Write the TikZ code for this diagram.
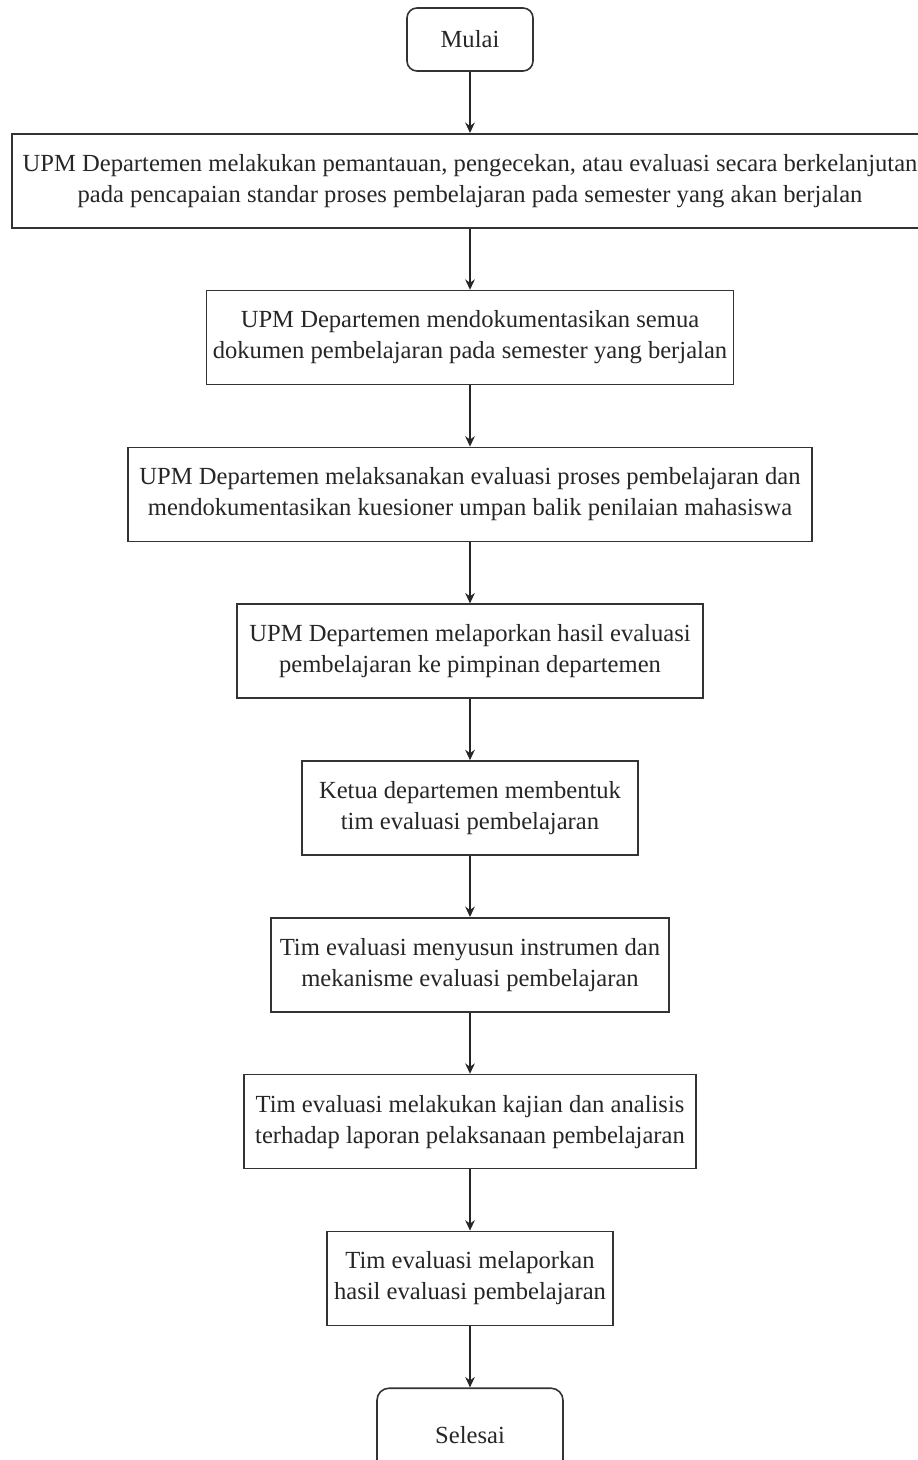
\documentclass[tikz,border=0pt]{standalone}
\usepackage{fontspec}
\setmainfont{Liberation Serif}
\usetikzlibrary{arrows.meta,positioning}
\tikzset{
    %Define standard arrow tip
    >={Stealth[length=5.2pt,width=4.8pt]},
    font=\fontsize{12.3pt}{15.5pt}\selectfont,
    %Define style for boxes
    kotak/.style={
           rectangle,
           draw=black!80, thick,
           minimum height=47pt,
           inner sep=0pt,
           align=center},
    % Define style for start and end
    ujung/.style={
           kotak,
           rounded corners=5pt},
    % Define arrow style
    pil/.style={
           ->,
           thick,
           color=black!85}
}

\begin{document}
\begin{tikzpicture}[pil,node distance=30.6pt]
  \useasboundingbox (0,0) rectangle (458.5pt,-730pt);
  \node[ujung,minimum width=63pt,minimum height=31.5pt] (mulai) at (235pt,-19.75pt) {Mulai};
  \node[kotak,minimum width=458pt] (p1) [below=of mulai] {UPM Departemen melakukan pemantauan, pengecekan, atau evaluasi secara berkelanjutan\\pada pencapaian standar proses pembelajaran pada semester yang akan berjalan};
  \node[kotak,minimum width=263.5pt] (p2) [below=of p1] {UPM Departemen mendokumentasikan semua\\dokumen pembelajaran pada semester yang berjalan};
  \node[kotak,minimum width=342pt] (p3) [below=of p2] {UPM Departemen melaksanakan evaluasi proses pembelajaran dan\\mendokumentasikan kuesioner umpan balik penilaian mahasiswa};
  \node[kotak,minimum width=233pt] (p4) [below=of p3] {UPM Departemen melaporkan hasil evaluasi\\pembelajaran ke pimpinan departemen};
  \node[kotak,minimum width=168pt] (p5) [below=of p4] {Ketua departemen membentuk\\tim evaluasi pembelajaran};
  \node[kotak,minimum width=199pt] (p6) [below=of p5] {Tim evaluasi menyusun instrumen dan\\mekanisme evaluasi pembelajaran};
  \node[kotak,minimum width=226pt] (p7) [below=of p6] {Tim evaluasi melakukan kajian dan analisis\\terhadap laporan pelaksanaan pembelajaran};
  \node[kotak,minimum width=143pt] (p8) [below=of p7] {Tim evaluasi melaporkan\\hasil evaluasi pembelajaran};
  \node[ujung,minimum width=93pt,rounded corners=6pt] (selesai) [below=of p8] {Selesai};
  \path
    (mulai) edge (p1)
    (p1) edge (p2)
    (p2) edge (p3)
    (p3) edge (p4)
    (p4) edge (p5)
    (p5) edge (p6)
    (p6) edge (p7)
    (p7) edge (p8)
    (p8) edge (selesai);
\end{tikzpicture}
\end{document}
